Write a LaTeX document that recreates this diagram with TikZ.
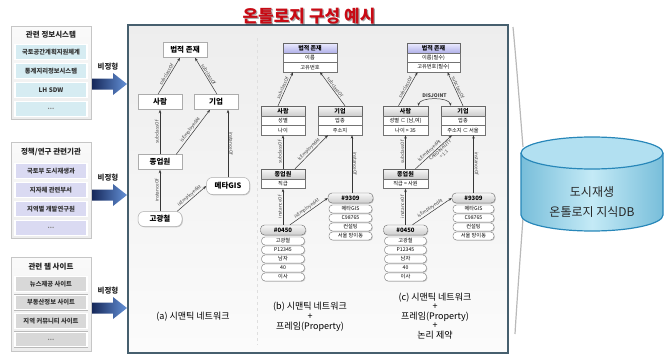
\documentclass[tikz,border=0pt]{standalone}
\usepackage{fontspec}
\setmainfont{Noto Sans CJK KR}
\usetikzlibrary{arrows.meta,shadows}
\newcommand{\fsz}[1]{\fontsize{#1}{#1}\selectfont}
\definecolor{panelborder}{RGB}{70,95,110}
\definecolor{edgec}{RGB}{55,55,55}
\definecolor{cyanitem}{RGB}{214,236,242}
\definecolor{lavitem}{RGB}{218,218,242}
\definecolor{grayitem}{RGB}{216,216,216}
\definecolor{titlered}{RGB}{200,10,20}
\definecolor{hdrlavA}{RGB}{236,236,255}
\definecolor{hdrlavB}{RGB}{176,176,232}
\definecolor{dbedge}{RGB}{40,135,185}
\definecolor{dbbodyA}{RGB}{120,190,218}
\definecolor{dbbodyB}{RGB}{196,234,246}
\definecolor{dbtop}{RGB}{178,224,241}
\definecolor{arrowdark}{RGB}{22,40,90}
\definecolor{arrowlight}{RGB}{100,145,215}
\tikzset{
  shadowed/.style={drop shadow={shadow xshift=0.8pt, shadow yshift=-0.8pt, opacity=0.3, fill=black!60}},
  outerp/.style={draw=gray!45, line width=0.5pt, top color=gray!4, bottom color=gray!14, minimum width=80pt, inner sep=0pt, shadowed},
  phdr/.style={font=\fsz{7.5}\bfseries, text=black!85, inner sep=0pt},
  itembox/.style={preaction={draw=gray!55, line width=2pt}, draw=white, line width=1.2pt, minimum width=72pt, minimum height=14.5pt, inner sep=0pt, font=\fsz{6.3}\bfseries, text=black!80},
  arrlbl/.style={font=\fsz{7.5}\bfseries, text=black!85, inner sep=0pt},
  abox/.style={draw=gray!65, line width=0.5pt, fill=white, minimum width=44pt, minimum height=15pt, inner sep=0pt, font=\fsz{7.5}\bfseries, shadowed},
  ainst/.style={abox, rounded corners=6pt},
  fhdr/.style={draw=black!60, line width=0.4pt, top color=gray!6, bottom color=gray!40, minimum width=44pt, minimum height=10pt, inner sep=0pt, font=\fsz{6}\bfseries, shadowed},
  fhdrp/.style={fhdr, top color=hdrlavA, bottom color=hdrlavB},
  frow/.style={draw=black!55, line width=0.4pt, fill=white, minimum width=44pt, minimum height=9.5pt, inner sep=0pt, font=\fsz{5.2}, shadowed},
  ihdr/.style={fhdr, rounded corners=4pt},
  irow/.style={frow, rounded corners=3.5pt, minimum height=8pt},
  rel/.style={draw=edgec, line width=0.5pt, -{Stealth[length=3.5pt,width=2.6pt]}},
  elbl/.style={font=\fsz{4.6}, text=black!75, inner sep=1pt},
  captxt/.style={font=\fontsize{9}{10}\selectfont, align=center, inner sep=0pt},
}
\begin{document}
\begin{tikzpicture}[x=1pt,y=-1pt]
\useasboundingbox (0,0) rectangle (664,356);

% ---------- left panels ----------
\node[outerp, minimum height=93pt] (p1) at (51,72.5) {};
\node[phdr] (p1h) at (51,35) {관련 정보시스템};
\node[itembox, fill=cyanitem] (p1a) at (51,52) {국토공간계획지원체계};
\node[itembox, fill=cyanitem] (p1b) at (51,71) {통계지리정보시스템};
\node[itembox, fill=cyanitem] (p1c) at (51,90) {LH SDW};
\node[itembox, fill=cyanitem, text=gray] (p1d) at (51,109) {...};

\node[outerp, minimum height=96pt] (p2) at (51,190) {};
\node[phdr] (p2h) at (51,152) {정책/연구 관련기관};
\node[itembox, fill=lavitem] (p2a) at (51,171) {국토부 도시재생과};
\node[itembox, fill=lavitem] (p2b) at (51,190) {지자체 관련부서};
\node[itembox, fill=lavitem] (p2c) at (51,209) {지역별 개발연구원};
\node[itembox, fill=lavitem, text=gray] (p2d) at (51,228) {...};

\node[outerp, minimum height=94pt] (p3) at (51,304) {};
\node[phdr] (p3h) at (51,267) {관련 웹 사이트};
\node[itembox, fill=grayitem] (p3a) at (51,284) {뉴스제공 사이트};
\node[itembox, fill=grayitem] (p3b) at (51,302.5) {부동산정보 사이트};
\node[itembox, fill=grayitem] (p3c) at (51,321) {지역 커뮤니티 사이트};
\node[itembox, fill=grayitem, text=gray] (p3d) at (51,339.5) {...};

% ---------- main panel ----------
\node[draw=panelborder, line width=1.6pt, top color=gray!14, bottom color=gray!3, minimum width=380pt, minimum height=328pt, inner sep=0pt] (main) at (318,189) {};

% block arrows
\foreach \ay in {84,195,308}{
  \shade[left color=arrowdark, right color=arrowlight] (92,\ay-5.5) -- (113,\ay-5.5) -- (113,\ay-11) -- (127,\ay) -- (113,\ay+11) -- (113,\ay+5.5) -- (92,\ay+5.5) -- cycle;
}
\node[arrlbl] (v1) at (108,67) {비정형};
\node[arrlbl] (v2) at (108,178) {비정형};
\node[arrlbl] (v3) at (108,291) {비정형};

% title
\node[font=\fsz{17}\bfseries, text=black, opacity=0.35] (titleshadow) at (310.3,17.3) {온톨로지 구성 예시};
\node[font=\fsz{17}\bfseries, text=titlered] (title) at (309,16) {온톨로지 구성 예시};

% faint separator
\draw[gray!25, dashed, line width=0.4pt] (257,38) -- (257,345);

% ---------- (a) ----------
\node[abox] (a1) at (185,50) {법적 존재};
\node[abox] (a2) at (160,102) {사람};
\node[abox] (a3) at (216,102) {기업};
\node[abox] (a4) at (160,162) {종업원};
\node[ainst] (a5) at (160,219) {고광철};
\node[ainst, minimum width=43pt, minimum height=17pt] (a6) at (228,186) {메타GIS};

\draw[rel] ([xshift=-2]a2.north) -- node[elbl, sloped, above] {subclassOf} ([xshift=-5]a1.south);
\draw[rel] ([xshift=1]a3.north) -- node[elbl, sloped, above] {subclassOf} ([xshift=10]a1.south);
\draw[rel] (a4.north) -- node[elbl, rotate=90, anchor=south] {subclassOf} (a2.south);
\draw[rel] ([xshift=-6]a4.north east) -- node[elbl, sloped, above] {isEmployedAt} ([xshift=-6]a3.south);
\draw[rel] (a6.north) -- node[elbl, rotate=-90, anchor=south] {instanceOf} ([xshift=12]a3.south);
\draw[rel] (a5.north) -- node[elbl, rotate=90, anchor=south] {instanceOf} (a4.south);
\draw[rel] ([xshift=-5]a5.north east) -- node[elbl, sloped, above] {isEmployedAt} (a6.west);

\node[captxt] (capa) at (193,317) {(a) 시맨틱 네트워크};

% ---------- (b) ----------
\node[fhdrp, minimum width=54pt] (bl) at (310,48) {법적 존재};
\node[frow, minimum width=54pt] (bl1) at (310,57.75) {이름};
\node[frow, minimum width=54pt] (bl2) at (310,67.25) {고유번호};

\node[fhdr] (bp) at (283,111) {사람};
\node[frow] (bp1) at (283,120.75) {성별};
\node[frow] (bp2) at (283,130.25) {나이};

\node[fhdr] (bk) at (340,111) {기업};
\node[frow] (bk1) at (340,120.75) {업종};
\node[frow] (bk2) at (340,130.25) {주소지};

\node[fhdr] (be) at (283,174) {종업원};
\node[frow] (be1) at (283,183.75) {직급};

\node[ihdr, minimum width=45pt] (bi) at (350.5,198) {\#9309};
\node[irow, minimum width=43pt] (bi1) at (350.5,209) {메타GIS};
\node[irow, minimum width=43pt] (bi2) at (350.5,218) {C98765};
\node[irow, minimum width=43pt] (bi3) at (350.5,227) {컨설팅};
\node[irow, minimum width=43pt] (bi4) at (350.5,236) {서울 방이동};

\node[ihdr, minimum width=45pt] (bo) at (283,230) {\#0450};
\node[irow, minimum width=43pt] (bo1) at (283,241) {고광철};
\node[irow, minimum width=43pt] (bo2) at (283,250) {P12345};
\node[irow, minimum width=43pt] (bo3) at (283,259) {남자};
\node[irow, minimum width=43pt] (bo4) at (283,268) {40};
\node[irow, minimum width=43pt] (bo5) at (283,277) {이사};

\draw[rel] ([xshift=-5]bp.north) -- node[elbl, sloped, above] {subclassOf} ([xshift=-17]bl2.south);
\draw[rel] ([xshift=5]bk.north) -- node[elbl, sloped, above] {subclassOf} ([xshift=10]bl2.south);
\draw[rel] (be.north) -- node[elbl, rotate=90, anchor=south] {subclassOf} (bp2.south);
\draw[rel] ([xshift=12]be.north) -- node[elbl, sloped, above] {isEmployedAt} ([xshift=-12]bk2.south);
\draw[rel] ([xshift=1.5]bi.north) -- node[elbl, rotate=-90, anchor=south] {instanceOf} ([xshift=12]bk2.south);
\draw[rel] (bo.north) -- node[elbl, rotate=90, anchor=south] {instanceOf} (be1.south);
\draw[rel] ([xshift=7]bo.north) -- node[elbl, sloped, above] {isEmployedAt} (bi.west);

\node[captxt] (capb) at (310,317) {(b) 시맨틱 네트워크\\+\\프레임(Property)};

% ---------- (c) ----------
\node[fhdrp, minimum width=53pt] (cl) at (433.5,48) {법적 존재};
\node[frow, minimum width=53pt] (cl1) at (433.5,57.75) {이름(필수)};
\node[frow, minimum width=53pt] (cl2) at (433.5,67.25) {고유번호(필수)};

\node[fhdr, minimum width=45pt] (cp) at (405.5,111) {사람};
\node[frow, minimum width=45pt] (cp1) at (405.5,120.75) {성별 ⊂ \{남,여\}};
\node[frow, minimum width=45pt] (cp2) at (405.5,130.25) {나이 > 35};

\node[fhdr] (ck) at (463,111) {기업};
\node[frow] (ck1) at (463,120.75) {업종};
\node[frow] (ck2) at (463,130.25) {주소지 ⊂ 서울};

\node[fhdr, minimum width=45pt] (ce) at (405.5,174) {종업원};
\node[frow, minimum width=45pt] (ce1) at (405.5,183.75) {직급 = 사원};

\node[ihdr, minimum width=43pt] (ci) at (473.5,198) {\#9309};
\node[irow, minimum width=41pt] (ci1) at (473.5,209) {메타GIS};
\node[irow, minimum width=41pt] (ci2) at (473.5,218) {C98765};
\node[irow, minimum width=41pt] (ci3) at (473.5,227) {컨설팅};
\node[irow, minimum width=41pt] (ci4) at (473.5,236) {서울 방이동};

\node[ihdr, minimum width=44pt] (co) at (405.5,230) {\#0450};
\node[irow, minimum width=42pt] (co1) at (405.5,241) {고광철};
\node[irow, minimum width=42pt] (co2) at (405.5,250) {P12345};
\node[irow, minimum width=42pt] (co3) at (405.5,259) {남자};
\node[irow, minimum width=42pt] (co4) at (405.5,268) {40};
\node[irow, minimum width=42pt] (co5) at (405.5,277) {이사};

\draw[rel] ([xshift=-7]cp.north) -- node[elbl, sloped, above] {subclassOf} ([xshift=-16]cl2.south);
\draw[rel] (ck.north) -- node[elbl, sloped, above] {subclassOf} ([xshift=14]cl2.south);
\draw[rel] (ce.north) -- node[elbl, rotate=90, anchor=south] {subclassOf} (cp2.south);
\draw[rel] ([xshift=10]ce.north) -- node[elbl, sloped, above, pos=0.45] {isEmployedAt} node[elbl, sloped, below, pos=0.62, align=center, font=\fontsize{4.6}{5.4}\selectfont] {CARDINALITY\\= 1:1} ([xshift=-11]ck2.south);
\draw[rel] (ci.north) -- node[elbl, rotate=-90, anchor=south] {instanceOf} ([xshift=10.5]ck2.south);
\draw[rel] (co.north) -- node[elbl, rotate=90, anchor=south] {instanceOf} (ce1.south);
\draw[rel] ([xshift=7]co.north) -- node[elbl, sloped, above] {isEmployedAt} (ci.west);
\draw[edgec, line width=0.5pt, {Stealth[length=3pt,width=2.4pt]}-{Stealth[length=3pt,width=2.4pt]}] ([xshift=-10]cp.north east) .. controls +(2,-9) and +(-2,-9) .. ([xshift=10]ck.north west) node[midway, above=1pt, font=\fsz{5}\bfseries, text=black!75, inner sep=0pt] (disj) {DISJOINT};

\node[captxt, font=\fontsize{9}{9.6}\selectfont] (capc) at (435,316) {(c) 시맨틱 네트워크\\+\\프레임(Property)\\+\\논리 제약};

% ---------- DB cylinder ----------
\coordinate (brA) at (513,27);
\coordinate (brB) at (523,147);
\coordinate (brC) at (523,218);
\coordinate (brD) at (515,334);
\draw[gray!55, line width=1.2pt] (brA) .. controls (517,70) and (520,110) .. (brB);
\draw[gray!55, line width=1.2pt] (brC) .. controls (520,260) and (517,300) .. (brD);

\shade[left color=dbbodyA, right color=dbbodyA, middle color=dbbodyB] (521,153) rectangle (663,215);
\shade[left color=dbbodyA, right color=dbbodyA, middle color=dbbodyB] (592,215) ellipse [x radius=71, y radius=16];
\draw[dbedge, line width=1.2pt] (521,153) -- (521,215) arc[start angle=180, end angle=0, x radius=71, y radius=16] -- (663,153);
\filldraw[fill=dbtop, draw=dbedge, line width=1.2pt] (592,153) ellipse [x radius=71, y radius=16];
\node[align=center, font=\fontsize{12}{20}\selectfont, text=black!85] (db) at (592,202) {도시재생\\온톨로지 지식DB};
\end{tikzpicture}
\end{document}
